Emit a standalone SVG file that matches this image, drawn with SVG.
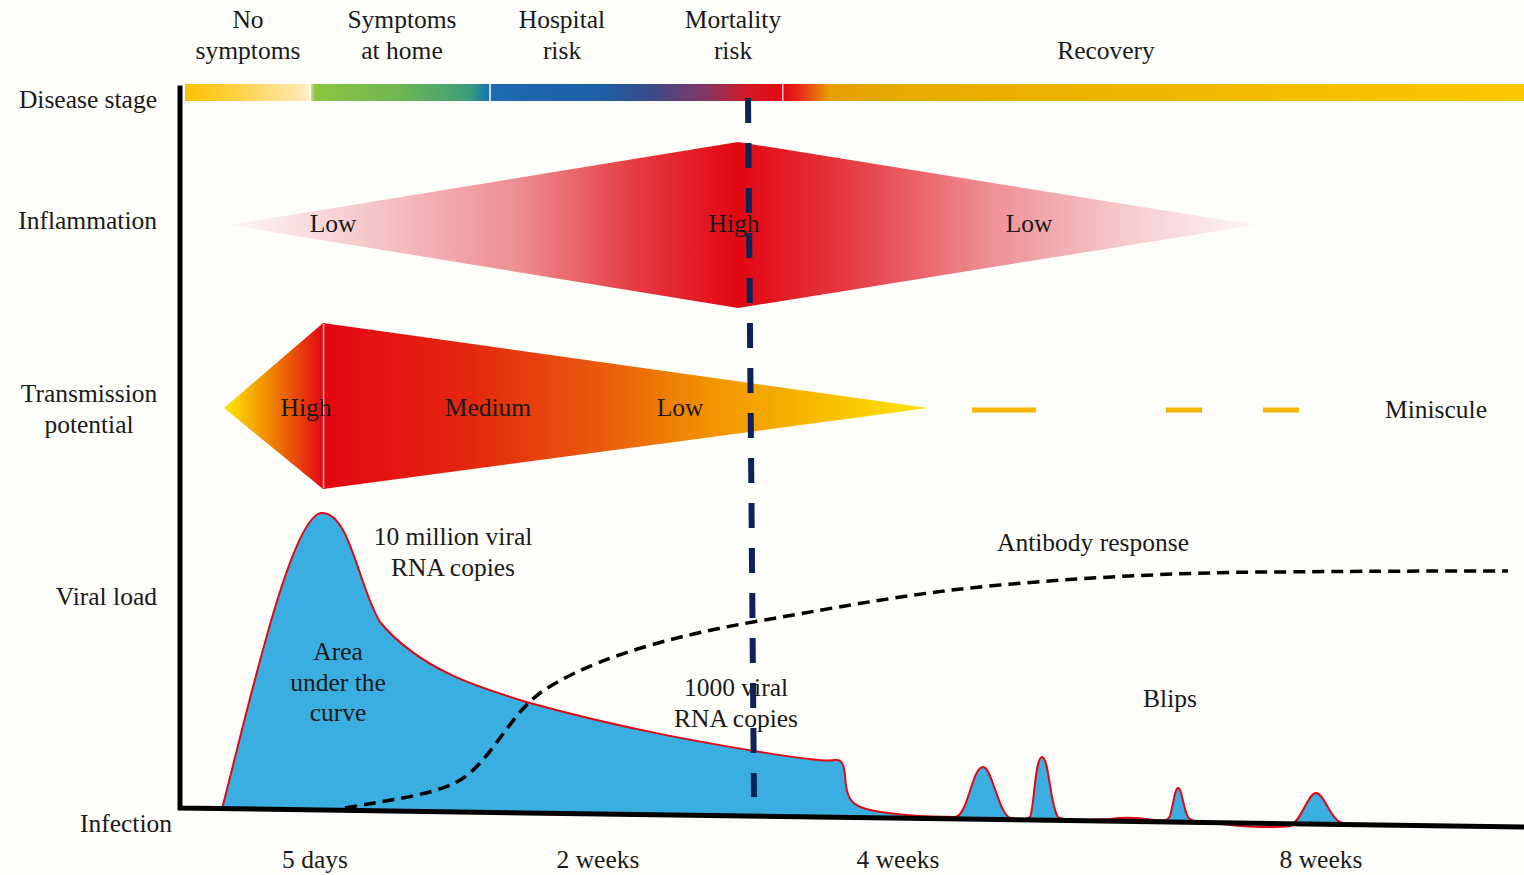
<svg xmlns="http://www.w3.org/2000/svg" width="1524" height="875" viewBox="0 0 1524 875" font-family="'Liberation Serif', 'DejaVu Serif', serif">
<style>
text{font-size:25.5px;fill:#1a1a1a}
.c{text-anchor:middle}
.r{text-anchor:end}
.ax{stroke:#000;stroke-width:5;fill:none;stroke-linecap:square}
.mort{stroke:#0b2358;stroke-width:6;stroke-dasharray:25 20;fill:none}
.ab{stroke:#000;stroke-width:3.5;stroke-dasharray:12 7;fill:none}
.mini{stroke:#f5b400;stroke-width:5;fill:none}
.sep{fill:#fff;opacity:0.75}
</style>
<defs>
<linearGradient id="gStage" gradientUnits="userSpaceOnUse" x1="185" y1="0" x2="1524" y2="0">
<stop offset="0" stop-color="#fbc200"/>
<stop offset="0.041" stop-color="#fdd24a"/>
<stop offset="0.086" stop-color="#fee8b0"/>
<stop offset="0.092" stop-color="#fdf1cc"/>
<stop offset="0.097" stop-color="#8cc63f"/>
<stop offset="0.160" stop-color="#6fb552"/>
<stop offset="0.213" stop-color="#3c9c7c"/>
<stop offset="0.225" stop-color="#1a7ab0"/>
<stop offset="0.230" stop-color="#1e6bb0"/>
<stop offset="0.310" stop-color="#1d5fa5"/>
<stop offset="0.347" stop-color="#3a4a8a"/>
<stop offset="0.385" stop-color="#7a3a6a"/>
<stop offset="0.418" stop-color="#d01a28"/>
<stop offset="0.446" stop-color="#e30613"/>
<stop offset="0.459" stop-color="#e82a18"/>
<stop offset="0.482" stop-color="#e5a000"/>
<stop offset="0.534" stop-color="#e6aa00"/>
<stop offset="1" stop-color="#fcc800"/>
</linearGradient>
<linearGradient id="gInfl" gradientUnits="userSpaceOnUse" x1="230" y1="0" x2="1255" y2="0">
<stop offset="0" stop-color="#fdf6f6"/>
<stop offset="0.12" stop-color="#f7cdcf"/>
<stop offset="0.28" stop-color="#ee8e93"/>
<stop offset="0.40" stop-color="#e5383f"/>
<stop offset="0.496" stop-color="#e30613"/>
<stop offset="0.60" stop-color="#e5383f"/>
<stop offset="0.74" stop-color="#ee8e93"/>
<stop offset="0.88" stop-color="#f7cdcf"/>
<stop offset="1" stop-color="#fdf6f6"/>
</linearGradient>
<linearGradient id="gTrL" gradientUnits="userSpaceOnUse" x1="224" y1="0" x2="323" y2="0">
<stop offset="0" stop-color="#ffe800"/>
<stop offset="0.45" stop-color="#f08a00"/>
<stop offset="1" stop-color="#e30613"/>
</linearGradient>
<linearGradient id="gTrR" gradientUnits="userSpaceOnUse" x1="323" y1="0" x2="928" y2="0">
<stop offset="0" stop-color="#e30613"/>
<stop offset="0.25" stop-color="#e4280f"/>
<stop offset="0.45" stop-color="#e9580c"/>
<stop offset="0.65" stop-color="#f29500"/>
<stop offset="0.85" stop-color="#f9c200"/>
<stop offset="1" stop-color="#ffe600"/>
</linearGradient>
</defs>
<rect width="1524" height="875" fill="#fdfdf9"/>

<g id="stage-bar">
<rect x="185" y="84" width="1339" height="17" fill="url(#gStage)"/>
<rect class="sep" x="309" y="84" width="2" height="17"/>
<rect class="sep" x="489" y="84" width="2" height="17"/>
<rect class="sep" x="782" y="84" width="1.5" height="17"/>
</g>

<g id="stage-labels">
<text class="c" x="248" y="28">No</text>
<text class="c" x="248" y="59">symptoms</text>
<text class="c" x="402" y="28">Symptoms</text>
<text class="c" x="402" y="59">at home</text>
<text class="c" x="562" y="28">Hospital</text>
<text class="c" x="562" y="59">risk</text>
<text class="c" x="733" y="28">Mortality</text>
<text class="c" x="733" y="59">risk</text>
<text class="c" x="1106" y="59">Recovery</text>
</g>

<g id="row-labels">
<text class="r" x="157" y="108">Disease stage</text>
<text class="r" x="157" y="229">Inflammation</text>
<text class="c" x="89" y="402">Transmission</text>
<text class="c" x="89" y="433">potential</text>
<text class="r" x="157" y="605">Viral load</text>
<text class="r" x="172" y="832">Infection</text>
</g>

<g id="time-labels">
<text class="c" x="315" y="868">5 days</text>
<text class="c" x="598" y="868">2 weeks</text>
<text class="c" x="898" y="868">4 weeks</text>
<text class="c" x="1321" y="868">8 weeks</text>
</g>

<g id="inflammation">
<polygon points="230,225 738,142 1255,225 738,308" fill="url(#gInfl)"/>
<text class="c" x="333" y="232">Low</text>
<text class="c" x="734" y="232">High</text>
<text class="c" x="1029" y="232">Low</text>
</g>

<g id="transmission">
<polygon points="224,408 323,323 323,489" fill="url(#gTrL)"/>
<polygon points="323,323 928,408 323,489" fill="url(#gTrR)"/>
<line x1="323.5" y1="324" x2="323.5" y2="488" stroke="#f6b8b8" stroke-width="1.5"/>
<line class="mini" x1="972" y1="410" x2="1036" y2="410"/>
<line class="mini" x1="1166" y1="410" x2="1202" y2="410"/>
<line class="mini" x1="1263" y1="410" x2="1299" y2="410"/>
<text class="c" x="306" y="416">High</text>
<text class="c" x="488" y="416">Medium</text>
<text class="c" x="680" y="416">Low</text>
<text class="c" x="1436" y="418">Miniscule</text>
</g>

<g id="viral-load">
<path d="M222,809 C250,700 292,513 322,513 C350,513 358,585 380,622 C420,670 480,688 530,703 C620,728 700,742 760,752 C800,758 825,762 835,760 C842,759 844,765 845,775 C846,800 852,806 870,810 C900,816 930,817 955,817 C968,816 972,767 983,767 C992,767 998,812 1010,818 C1018,820 1026,820 1030,817 C1034,810 1035,757 1042,757 C1049,757 1050,806 1058,817 C1065,821 1090,820 1110,819 C1125,817 1135,817 1150,819.5 C1162,821 1168,821 1170,816 C1173,806 1175,788 1178,788 C1182,788 1183,808 1188,817 C1192,822 1200,822 1210,822 L1290,823 C1300,822 1308,793 1316,793 C1324,793 1330,818 1340,822 L1345,824 L222,809 Z" fill="#3aaee0" stroke="none"/>
<path d="M222,809 C250,700 292,513 322,513 C350,513 358,585 380,622 C420,670 480,688 530,703 C620,728 700,742 760,752 C800,758 825,762 835,760 C842,759 844,765 845,775 C846,800 852,806 870,810 C900,816 930,817 955,817 C968,816 972,767 983,767 C992,767 998,812 1010,818 C1018,820 1026,820 1030,817 C1034,810 1035,757 1042,757 C1049,757 1050,806 1058,817 C1065,821 1090,820 1110,819 C1125,817 1135,817 1150,819.5 C1162,821 1168,821 1170,816 C1173,806 1175,788 1178,788 C1182,788 1183,808 1188,817 C1192,822 1200,822 1210,822 C1230,826 1270,828.5 1290,826 C1300,824 1308,793 1316,793 C1324,793 1330,818 1340,822 L1350,825" fill="none" stroke="#e30613" stroke-width="2"/>
<text class="c" x="453" y="545">10 million viral</text>
<text class="c" x="453" y="576">RNA copies</text>
<text class="c" x="338" y="660">Area</text>
<text class="c" x="338" y="691">under the</text>
<text class="c" x="338" y="721">curve</text>
<text class="c" x="736" y="696">1000 viral</text>
<text class="c" x="736" y="727">RNA copies</text>
<text class="c" x="1170" y="707">Blips</text>
</g>

<g id="antibody">
<text class="c" x="1093" y="551">Antibody response</text>
</g>

<g id="connectors">
<path class="ab" d="M345,808 C390,800 430,795 455,783 C490,765 505,720 540,693 C580,665 650,640 753,622 C850,605 920,592 1000,585 C1100,576 1200,572 1280,572 C1380,571 1450,571 1508,571"/>
<path class="ax" d="M180,88 L180,808 L1524,827"/>
<line class="mort" x1="748" y1="98" x2="754" y2="797"/>
</g>
</svg>
